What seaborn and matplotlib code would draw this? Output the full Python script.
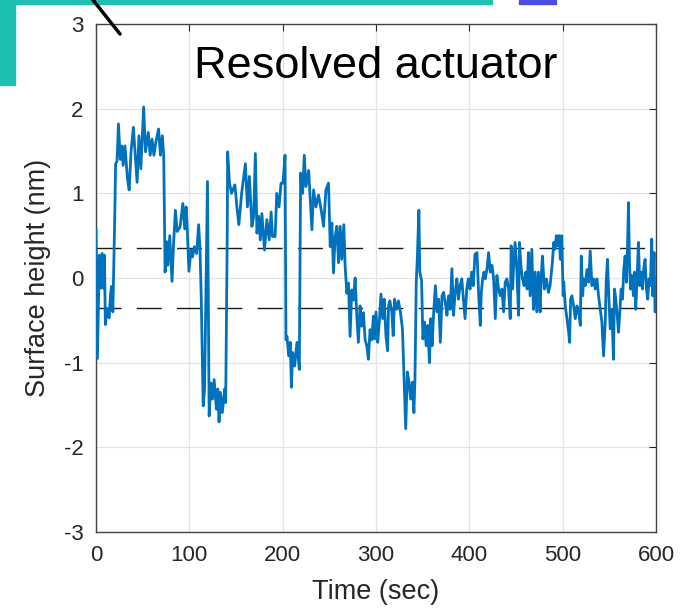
import matplotlib
matplotlib.use("Agg")
import matplotlib.pyplot as plt
from matplotlib.lines import Line2D
from matplotlib.patches import Rectangle
import numpy as np
import pandas as pd
import seaborn as sns

# surface height trace, one block per 100 s
t_000 = [0, 1.5, 3.5, 5, 6.5, 8, 9, 10, 12, 14, 15.5, 16.5, 18, 20, 21, 22.5, 24, 26, 27.6, 29,
         31, 33.7, 35.5, 37.5, 40, 42, 44, 46, 48, 51, 53, 56, 58, 60, 62, 64, 67, 69, 71, 72.5,
         74, 75.5, 77, 79, 81.4, 83, 85, 87, 90, 93, 95, 96.5, 97.5]
h_000 = [0.58, -0.95, 0.27, -0.12, 0.29, -0.12, 0.27, -0.55, -0.36, -0.47, -0.2, -0.1, -0.4, 0.7, 1.35, 1.38, 1.82, 1.4, 1.56, 1.33,
         1.56, 1.17, 1.04, 1.49, 1.78, 1.45, 1.13, 1.68, 1.29, 2.02, 1.49, 1.72, 1.45, 1.64, 1.45, 1.6, 1.76, 1.45, 1.68, 1.45,
         0.07, 0.43, 0.15, 0.5, -0.04, 0.39, 0.8, 0.55, 0.6, 0.88, 0.58, 0.84, 0.65]

t_100 = [99.5, 101.8, 103.5, 105.3, 107.8, 109.9, 111.3, 112.7, 114.8, 116.3, 119.4, 121.2, 123, 124.7, 126.5, 129, 130.4, 131.8, 133.2, 135.3,
         137.8, 138.9, 140.6, 141, 143, 145.2, 148.8, 150.9, 153, 156, 160, 162.2, 164.3, 167, 168.9, 170.7, 172.4, 174.2, 176, 177.7,
         180.5, 183, 185.5, 187.6, 189, 191.9, 193.6, 196.1, 198.2, 200.3, 202.5]
h_100 = [0.08, 0.33, 0.25, 0.37, 0.29, 0.63, 0.37, -0.22, -1.51, -1.31, 1.14, -1.63, -1.24, -1.43, -1.2, -1.55, -1.31, -1.7, -1.35, -1.59,
         -1.31, -1.47, 0.57, 1.49, 1.12, 1.0, 1.1, 0.84, 0.63, 1.0, 1.35, 0.84, 1.2, 0.61, 0.73, 1.47, 0.53, 0.73, 0.45, 0.76,
         0.33, 0.69, 0.45, 0.78, 0.49, 0.49, 1.0, 0.84, 1.12, 1.12, 1.45]

t_200 = [203.5, 204.6, 206.4, 208.2, 209.3, 210.7, 212.8, 215.3, 217.8, 219.2, 221.4, 223.1, 224.9, 227.8, 229.5, 231.3, 233.1, 235.6, 238.4, 241.3,
         243.8, 246.3, 249.1, 250.9, 252.7, 254.4, 256.2, 258, 259.8, 261.6, 263.3, 265.5, 266.9, 268.7, 270.5, 272.2, 274, 275.8, 277.6, 279.4,
         281.1, 282.9, 284.7, 286.5, 288.3, 290.1, 291.8, 293.6, 295.4, 297.2, 298.5]
h_200 = [-0.73, -0.69, -0.92, -0.76, -1.29, -0.88, -1.04, -0.76, -1.08, 1.24, 1.0, 1.45, 1.08, 1.27, 0.92, 0.57, 1.04, 0.84, 0.98, 0.8,
         0.61, 1.04, 1.12, 0.37, 0.65, 0.06, 0.49, 0.61, 0.18, 0.61, 0.22, 0.63, 0.14, -0.18, -0.06, -0.69, -0.14, -0.26, 0.0, -0.45,
         -0.76, -0.33, -0.57, -0.41, -0.73, -0.8, -0.96, -0.61, -0.73, -0.45, -0.72]

t_300 = [300, 301.8, 303.5, 305.3, 307.1, 308.8, 310.6, 312.4, 313.4, 314.8, 316.9, 318.4, 319.8, 321.9, 324, 326.1, 328.3, 330, 331.8, 333.6,
         335.3, 337.1, 338.9, 340.6, 341.7, 343.1, 344.2, 345.9, 346.9, 348.8, 350.2, 352, 353.7, 355.5, 357.2, 358.7, 360.1, 361.8, 363.6, 365.4,
         367.1, 368.9, 370.7, 372.4, 374.2, 376, 377.7, 379.5, 381.3, 383, 384.8, 386.6, 388.3, 390.1, 391.9, 393.6, 395.4, 397.2, 398.9]
h_300 = [-0.4, -0.76, -0.52, -0.19, -0.48, -0.25, -0.68, -0.86, -0.33, -0.27, -0.4, -0.68, -0.25, -0.37, -0.27, -0.4, -0.6, -1.19, -1.78, -1.11,
         -1.23, -1.43, -1.23, -1.59, -1.19, -0.05, 0.22, 0.8, 0.07, -0.03, -0.72, -0.52, -0.8, -0.56, -1.0, -0.48, -0.8, -0.4, -0.09, -0.4,
         -0.25, -0.76, -0.21, -0.17, -0.29, -0.44, -0.21, -0.37, 0.11, -0.44, -0.17, -0.01, -0.25, -0.09, -0.01, -0.25, -0.48, -0.13, -0.01]

t_400 = [400.7, 402.5, 404.2, 406, 408.2, 410, 411.7, 412.8, 414.2, 415.7, 417.1, 418.9, 420.6, 422.4, 424.2, 426, 427.8, 429.5, 431.3, 433.1,
         434.9, 436.7, 438.4, 440.2, 442, 443.8, 444.8, 446.3, 447.3, 449, 450.8, 452.7, 453.7, 455.2, 456.9, 458.7, 460.5, 461.9, 463.3, 465.1,
         466.9, 468.7, 470.5, 472.2, 474, 475.8, 476.9, 478.3, 480.4, 482.6, 484.7, 486.5, 489, 490.4, 491.8, 493.2, 494.7, 496.1, 497.5, 499]
h_400 = [-0.13, 0.07, -0.09, 0.28, 0.3, -0.21, -0.56, -0.17, -0.01, 0.07, -0.01, 0.11, 0.3, 0.07, 0.15, -0.01, -0.48, 0.03, -0.13, -0.21,
         -0.13, -0.4, -0.05, -0.01, -0.13, -0.48, 0.38, -0.13, 0.11, 0.42, 0.11, -0.44, 0.42, 0.15, -0.01, -0.09, 0.07, -0.13, 0.3, -0.21,
         0.34, -0.37, 0.07, -0.4, 0.07, -0.4, -0.01, 0.26, -0.13, -0.01, -0.17, -0.09, 0.19, 0.42, 0.34, 0.5, 0.38, 0.5, 0.22, 0.5]

t_500 = [500.5, 501.1, 502.8, 504.6, 506.4, 507.4, 508.5, 509.9, 511.7, 513.5, 515.3, 517.1, 518.9, 519.9, 521.4, 522.4, 524.2, 526, 527.8, 529.5,
         531.3, 533.1, 534.9, 536.7, 538.4, 540.2, 542, 543.8, 545.6, 546.6, 548, 549.1, 550.9, 552.7, 554.4, 555.5, 556.9, 558.4, 559.8, 561.6,
         562.6, 564.1, 565.5, 566.9, 568.3, 569.4, 570.5, 571.5, 572.6, 574, 575.8, 576.9, 578.3, 579.7, 581.1, 582.6, 584, 585.4, 586.8, 588.3,
         589.7, 591.1, 592.5, 594, 595.4, 596.4, 597.9, 598.9, 600]
h_500 = [-0.21, -0.05, -0.33, -0.48, -0.64, -0.76, -0.25, -0.21, -0.33, -0.48, -0.33, -0.4, -0.56, 0.26, -0.21, -0.01, -0.09, 0.1, -0.05, 0.32,
         -0.09, -0.01, -0.13, -0.01, -0.21, -0.37, -0.52, -0.92, -0.52, -0.05, 0.22, -0.13, -0.6, -0.37, -0.96, -0.13, -0.25, -0.44, -0.64, -0.33,
         -0.13, -0.25, 0.11, 0.26, -0.05, 0.34, 0.89, 0.22, -0.13, 0.03, -0.21, 0.07, -0.37, -0.01, 0.42, -0.09, 0.07, -0.13, 0.11, 0.22,
         -0.13, -0.25, -0.01, -0.09, 0.46, -0.21, 0.3, -0.4, -0.4]

threshold = 0.35  # dashed band

x_ticks = [0, 100, 200, 300, 400, 500, 600]
y_ticks = [-3, -2, -1, 0, 1, 2, 3]

df = pd.DataFrame({
    "time": t_000 + t_100 + t_200 + t_300 + t_400 + t_500,
    "height": h_000 + h_100 + h_200 + h_300 + h_400 + h_500,
})

sns.set_style("white")
plt.rcParams["font.family"] = ["Liberation Sans", "DejaVu Sans"]
plt.rcParams["axes.unicode_minus"] = False

fig = plt.figure(figsize=(6.86, 6.09), dpi=100)
ax = fig.add_axes([0.140, 0.1264, 0.8163, 0.8342])

ax.grid(True, color="#e3e3e3", linewidth=0.9)
ax.set_axisbelow(True)

for yv in (threshold, -threshold):
    ax.axhline(yv, color="#1a1a1a", linewidth=1.0, dashes=(18, 11), zorder=2)

sns.lineplot(data=df, x="time", y="height", sort=False, estimator=None,
             color="#0072BD", linewidth=2.0, ax=ax, zorder=3)

ax.set_xlim(0, 600)
ax.set_ylim(-3, 3)
ax.set_xticks(x_ticks)
ax.set_yticks(y_ticks)
ax.tick_params(direction="in", length=5, width=0.8, colors="#262626",
               labelsize=16, top=True, right=True, pad=9)
for sp in ax.spines.values():
    sp.set_color("#444444")
    sp.set_linewidth(1.0)

ax.set_xlabel("Time (sec)", fontsize=19.5, color="#262626", labelpad=10)
ax.set_ylabel("Surface height (nm)", fontsize=19.5, color="#262626", labelpad=9)

ax.text(0.5, 0.894, "Resolved actuator", transform=ax.transAxes,
        ha="center", va="baseline", fontsize=32.5, color="black")

# slide remnants around the figure
W, H = 686, 609
teal = "#1fbfb2"
fig.add_artist(Rectangle((0, 1 - 3.5 / H), 492 / W, 3.5 / H, transform=fig.transFigure,
                         color=teal, zorder=0))
fig.add_artist(Rectangle((0, 1 - 85 / H), 15 / W, 85 / H, transform=fig.transFigure,
                         color=teal, zorder=0))
fig.add_artist(Rectangle((519 / W, 1 - 3.5 / H), 37 / W, 3.5 / H, transform=fig.transFigure,
                         color="#4b4fe0", zorder=0))
fig.add_artist(Line2D([93 / W, 120 / W], [1.0, 1 - 34 / H], transform=fig.transFigure,
                      color="black", linewidth=2.5, zorder=5))

fig.savefig("out.png", dpi=100)
